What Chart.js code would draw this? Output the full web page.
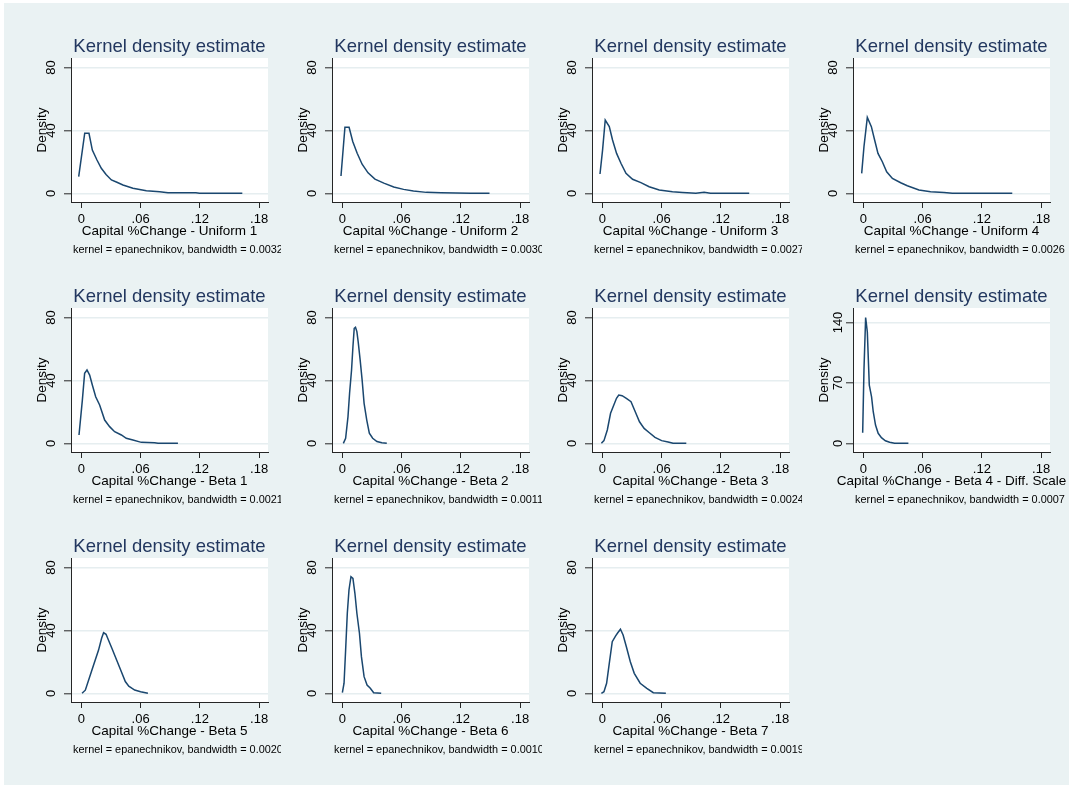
<!DOCTYPE html>
<html>
<head>
<meta charset="utf-8">
<script src="https://cdn.jsdelivr.net/npm/chart.js@4.4.1/dist/chart.umd.min.js"></script>
<style>
  html, body { margin: 0; padding: 0; background: #ffffff; }
  #bg { position: absolute; left: 4px; top: 3px; width: 1065px; height: 782px; background: #eaf2f3; }
  canvas { position: absolute; }
</style>
</head>
<body>
<div id="bg"></div>
<script>
// ---------------- DATA ----------------
const panelNames = ['Uniform 1', 'Uniform 2', 'Uniform 3', 'Uniform 4',
                    'Beta 1', 'Beta 2', 'Beta 3', 'Beta 4 - Diff. Scale',
                    'Beta 5', 'Beta 6', 'Beta 7'];
const bandwidths = ['0.0032', '0.0030', '0.0027', '0.0026',
                    '0.0021', '0.0011', '0.0024', '0.0007',
                    '0.0020', '0.0010', '0.0019'];
const xTickValues = [0, 0.06, 0.12, 0.18];
const xTickLabels = ['0', '.06', '.12', '.18'];
const yTicksStandard = [0, 40, 80];
const yTicksBeta4 = [0, 70, 140];

const uniform1X = [-0.0027, 0.0034, 0.0077, 0.0111, 0.0158, 0.0202, 0.025, 0.0304, 0.036, 0.0421, 0.0522, 0.0658, 0.0793, 0.0877, 0.1, 0.116, 0.1196, 0.14, 0.163];
const uniform1Y = [10.6, 38.2, 38.2, 27.5, 21.2, 15.9, 12.0, 8.5, 7.0, 5.3, 3.2, 1.7, 1.0, 0.4, 0.4, 0.4, 0.1, 0, 0];

const uniform2X = [-0.0014, 0.0026, 0.0068, 0.0105, 0.015, 0.02, 0.026, 0.033, 0.042, 0.052, 0.062, 0.072, 0.085, 0.1, 0.115, 0.13, 0.149];
const uniform2Y = [11, 42, 42, 33, 25.5, 18.5, 13, 9, 6.5, 4, 2.5, 1.5, 0.6, 0.3, 0.2, 0, 0];

const uniform3X = [-0.0024, 0.0002, 0.0029, 0.007, 0.0103, 0.0144, 0.0188, 0.0239, 0.0306, 0.039, 0.0474, 0.0576, 0.071, 0.0812, 0.0947, 0.103, 0.1095, 0.1487];
const uniform3Y = [12.3, 27.5, 46.6, 42.4, 33.9, 25.4, 19.1, 12.7, 8.9, 6.8, 4.2, 2.1, 1.0, 0.5, 0, 0.7, 0, 0];

const uniform4X = [-0.0017, 0.0006, 0.004, 0.0081, 0.0114, 0.0148, 0.0192, 0.0236, 0.0294, 0.0378, 0.0445, 0.0563, 0.0681, 0.0816, 0.0901, 0.1508];
const uniform4Y = [12.7, 29.6, 48.3, 42.4, 33.9, 25.4, 20.1, 13.7, 9.5, 6.7, 4.8, 2.1, 1.0, 0.5, 0, 0];

const beta1X = [-0.0024, 0.001, 0.0033, 0.0057, 0.0084, 0.0111, 0.0145, 0.0185, 0.0236, 0.0286, 0.0337, 0.0405, 0.0455, 0.0522, 0.0607, 0.0742, 0.0776, 0.0978];
const beta1Y = [5.3, 27.5, 44.5, 46.6, 43.4, 37.1, 29.6, 24.4, 14.8, 10.6, 7.4, 5.3, 3.2, 2.1, 0.6, 0.4, 0, 0];

const beta2X = [0.001, 0.0033, 0.0057, 0.0073, 0.0093, 0.0107, 0.012, 0.0133, 0.0147, 0.016, 0.018, 0.02, 0.022, 0.0247, 0.0273, 0.0307, 0.035, 0.04, 0.045];
const beta2Y = [0, 3.2, 17, 31.8, 46.6, 61.4, 73.1, 73.8, 71, 64.6, 53, 40.3, 25.4, 14.8, 6.4, 3.2, 1.1, 0.4, 0];

const beta3X = [-0.001, 0.0016, 0.005, 0.0083, 0.0116, 0.0143, 0.0166, 0.02, 0.0243, 0.029, 0.0333, 0.0376, 0.0423, 0.0476, 0.0533, 0.06, 0.0666, 0.0716, 0.085];
const beta3Y = [0, 1.7, 8.5, 19.1, 24.4, 28.6, 30.7, 30.3, 28.6, 26.5, 20.1, 13.7, 9.5, 6.7, 3.8, 1.7, 0.8, 0, 0];

const beta4X = [-0.0007, 0.0006, 0.0023, 0.004, 0.006, 0.0083, 0.01, 0.0123, 0.015, 0.0183, 0.0223, 0.0266, 0.0316, 0.0456];
const beta4Y = [12.3, 84.8, 145.8, 129.1, 67.5, 53.9, 36.6, 21.2, 11.6, 6.5, 3.0, 1.2, 0, 0];

const beta5X = [0.0007, 0.004, 0.0107, 0.0174, 0.0205, 0.0225, 0.025, 0.0274, 0.031, 0.0357, 0.04, 0.0445, 0.048, 0.054, 0.06, 0.0674];
const beta5Y = [0, 2, 14.8, 27.5, 35, 38.5, 37.5, 33.9, 28.5, 21.2, 14.5, 7.5, 4.5, 2.1, 1, 0];

const beta6X = [0, 0.0017, 0.0033, 0.005, 0.0067, 0.0087, 0.0107, 0.0127, 0.0147, 0.0173, 0.0193, 0.022, 0.025, 0.0283, 0.0317, 0.0393];
const beta6Y = [0.4, 6.4, 27.5, 50.9, 65.7, 74.2, 73.1, 63.6, 50.9, 38.2, 23.3, 10.6, 5.3, 3.2, 0.4, 0];

const beta7X = [-0.001, 0.0016, 0.0043, 0.007, 0.01, 0.0133, 0.0156, 0.0183, 0.021, 0.0243, 0.0283, 0.0323, 0.0383, 0.045, 0.0516, 0.0643];
const beta7Y = [0, 1, 6.4, 19.1, 32.8, 36.4, 38.5, 40.7, 37.1, 29.6, 20.1, 12.7, 6.4, 3.2, 0.4, 0];

const seriesX = [uniform1X, uniform2X, uniform3X, uniform4X, beta1X, beta2X, beta3X, beta4X, beta5X, beta6X, beta7X];
const seriesY = [uniform1Y, uniform2Y, uniform3Y, uniform4Y, beta1Y, beta2Y, beta3Y, beta4Y, beta5Y, beta6Y, beta7Y];
const seriesYTicks = [yTicksStandard, yTicksStandard, yTicksStandard, yTicksStandard,
                      yTicksStandard, yTicksStandard, yTicksStandard, yTicksBeta4,
                      yTicksStandard, yTicksStandard, yTicksStandard];

// ---------------- STYLE / LAYOUT ----------------
const FONT = '"Liberation Sans", Arial, Helvetica, sans-serif';
const LINE_COLOR = '#1a476f';
const TITLE_COLOR = '#22375f';
const AXIS_COLOR = '#262626';
const GRID_COLOR = '#e6eef0';
const X_MIN = -0.0105, X_MAX = 0.189;
const COL_LEFT = [20, 281, 541, 802];
const ROW_TOP = [10, 260, 510];
const PANEL_H = 250;

const plotBackground = {
  id: 'plotBackground',
  beforeDraw(chart) {
    const { ctx, chartArea: a } = chart;
    ctx.save();
    ctx.fillStyle = '#ffffff';
    ctx.fillRect(a.left, a.top, a.right - a.left, a.bottom - a.top);
    ctx.restore();
  }
};

const stataText = {
  id: 'stataText',
  afterDraw(chart, args, opts) {
    const { ctx, chartArea: a } = chart;
    ctx.save();
    ctx.fillStyle = '#000000';
    ctx.textBaseline = 'middle';
    ctx.font = '13.5px ' + FONT;
    ctx.textAlign = 'center';
    ctx.fillText(opts.xTitle, (a.left + a.right) / 2, a.bottom + 29);
    ctx.font = '10.9px ' + FONT;
    ctx.textAlign = 'left';
    ctx.fillText(opts.note, a.left + 2, a.bottom + 47.5);
    ctx.restore();
  }
};

panelNames.forEach((name, i) => {
  const col = i % 4, row = Math.floor(i / 4);
  const width = col === 3 ? 268 : 261;
  const canvas = document.createElement('canvas');
  canvas.width = width; canvas.height = PANEL_H;
  canvas.style.left = COL_LEFT[col] + 'px';
  canvas.style.top = ROW_TOP[row] + 'px';
  canvas.style.width = width + 'px';
  canvas.style.height = PANEL_H + 'px';
  document.body.appendChild(canvas);

  const xs = seriesX[i], ys = seriesY[i], yTicks = seriesYTicks[i];
  const topTick = yTicks[yTicks.length - 1];
  const topValue = Math.max(topTick, Math.max(...ys));
  const yMin = -topValue * 0.069;
  const yMax = topValue * 1.0754;
  const yPad = topTick >= 100 ? -3.6 : 5;

  new Chart(canvas, {
    type: 'line',
    data: {
      datasets: [{
        data: xs.map((x, k) => ({ x: x, y: ys[k] })),
        borderColor: LINE_COLOR,
        borderWidth: 1.5,
        pointRadius: 0,
        tension: 0,
        fill: false
      }]
    },
    options: {
      responsive: false,
      animation: false,
      devicePixelRatio: 1,
      layout: { padding: { top: 0, left: 0, bottom: 0, right: width - 248 } },
      plugins: {
        legend: { display: false },
        tooltip: { enabled: false },
        title: {
          display: true,
          text: 'Kernel density estimate',
          fullSize: false,
          align: 'center',
          color: TITLE_COLOR,
          font: { family: FONT, size: 18.5, weight: 'normal' },
          padding: { top: 25.8, bottom: 0 }
        },
        stataText: {
          xTitle: 'Capital %Change - ' + name,
          note: 'kernel = epanechnikov, bandwidth = ' + bandwidths[i]
        }
      },
      scales: {
        x: {
          type: 'linear',
          min: X_MIN,
          max: X_MAX,
          afterBuildTicks: s => { s.ticks = xTickValues.map(v => ({ value: v })); },
          afterFit: s => { s.height = 58; },
          ticks: {
            callback: (v, k) => xTickLabels[k],
            font: { family: FONT, size: 13 },
            color: '#000000',
            padding: 4,
            autoSkip: false,
            minRotation: 0,
            maxRotation: 0
          },
          grid: { drawOnChartArea: false, drawTicks: true, tickLength: 6, tickColor: AXIS_COLOR, tickWidth: 1 },
          border: { display: true, color: AXIS_COLOR, width: 1 }
        },
        y: {
          type: 'linear',
          min: yMin,
          max: yMax,
          afterBuildTicks: s => { s.ticks = yTicks.map(v => ({ value: v })); },
          afterFit: s => { s.width = 51; },
          ticks: {
            callback: v => String(v),
            font: { family: FONT, size: 13 },
            color: '#000000',
            padding: yPad,
            autoSkip: false,
            minRotation: 90,
            maxRotation: 90,
            crossAlign: 'center'
          },
          grid: { color: GRID_COLOR, lineWidth: 1.6, drawTicks: true, tickLength: 7, tickColor: AXIS_COLOR, tickWidth: 1 },
          border: { display: true, color: AXIS_COLOR, width: 1 },
          title: {
            display: true,
            text: 'Density',
            color: '#000000',
            font: { family: FONT, size: 13.5 },
            padding: { top: 14, bottom: 0 }
          }
        }
      }
    },
    plugins: [plotBackground, stataText]
  });
});
</script>
</body>
</html>
